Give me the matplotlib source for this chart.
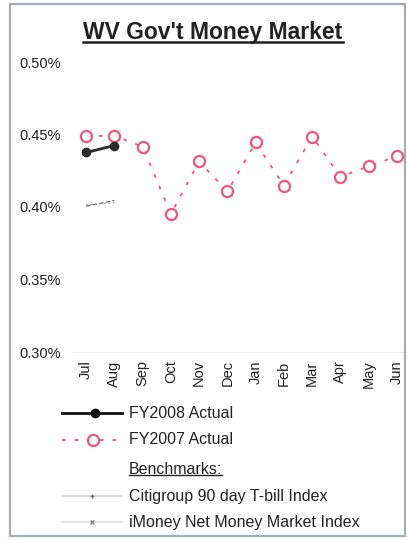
"""Monthly yield chart for the WV Government Money Market pool."""

import matplotlib
matplotlib.use("Agg")
import matplotlib.pyplot as plt
from matplotlib.lines import Line2D
from matplotlib.patches import Rectangle
from matplotlib.ticker import FuncFormatter

plt.rcParams["font.family"] = ["Liberation Sans", "DejaVu Sans"]

# Fiscal-year months and yields (percent)
months = ["Jul", "Aug", "Sep", "Oct", "Nov", "Dec", "Jan", "Feb", "Mar", "Apr", "May", "Jun"]
fy2008 = [0.4376, 0.4424]
fy2007 = [0.449, 0.449, 0.4417, 0.3952, 0.4314, 0.4107, 0.4445, 0.4148, 0.4486, 0.421, 0.428, 0.435]
citigroup_tbill = [0.4005, 0.4045]
imoney_net = [0.4015, 0.4030]
y_ticks = [0.30, 0.35, 0.40, 0.45, 0.50]

pink = "#f0557e"

fig = plt.figure(figsize=(4.07, 5.40), dpi=100)
fig.patch.set_facecolor("white")

# outer frame of the chart object
fig.add_artist(Rectangle((10 / 407, 4 / 540), 395 / 407, 532 / 540, transform=fig.transFigure,
                         fill=False, edgecolor="#a3aebb", linewidth=1.6))

ax = fig.add_axes([72 / 407, 1 - 352 / 540, 339 / 407, 290 / 540])
x = list(range(len(months)))

# benchmarks, drawn faintly
ax.plot(x[:len(citigroup_tbill)], citigroup_tbill, color="#555555", linewidth=0.8,
        linestyle=(0, (4, 2)), zorder=2)
ax.plot(x[:len(imoney_net)], imoney_net, color="#999999", linewidth=0.8,
        linestyle=(0, (2, 2)), zorder=2)

ax.plot(x, fy2007, color=pink, linewidth=1.3, linestyle=(0, (2, 5)), marker="o",
        markersize=8, markerfacecolor="white", markeredgecolor=pink, markeredgewidth=1.6,
        zorder=3)
ax.plot(x[:len(fy2008)], fy2008, color="#2b2b2b", linewidth=2, marker="o", markersize=6,
        markerfacecolor="#2b2b2b", markeredgecolor="#2b2b2b", zorder=4)

ax.set_xlim(-0.5, 11.5)
ax.set_ylim(0.30, 0.50)
ax.set_yticks(y_ticks)
ax.yaxis.set_major_formatter(FuncFormatter(lambda v, p: f"{v:.2f}%"))
ax.set_xticks(x)
ax.set_xticklabels(months, rotation=90)
ax.tick_params(axis="both", length=0, labelsize=10.5, colors="#222222")
ax.tick_params(axis="x", pad=6)
ax.tick_params(axis="y", pad=8)
for side in ["top", "right", "left"]:
    ax.spines[side].set_visible(False)
ax.spines["bottom"].set_color("#eeeeee")
ax.patch.set_alpha(0)

# title, underlined
title = fig.text(213 / 407, 1 - 32 / 540, "WV Gov't Money Market", ha="center", va="center",
                 fontsize=16.5, fontweight="bold", color="#222222")

# legend block below the axis
leg = fig.add_axes([0, 0, 1, 1 - 385 / 540])
leg.set_xlim(0, 407)
leg.set_ylim(155, 0)
leg.axis("off")


def row_y(py):
    return py - 385


leg.add_line(Line2D([62, 95, 122], [row_y(413)] * 3, color="#111111", linewidth=2,
                    marker="o", markevery=[1], markersize=6))
leg.add_line(Line2D([62, 93, 122], [row_y(440)] * 3, color=pink, linewidth=1.3,
                    linestyle=(0, (2, 5)), marker="o", markevery=[1], markersize=8,
                    markerfacecolor="white", markeredgewidth=1.6))
leg.add_line(Line2D([62, 92, 122], [row_y(496)] * 3, color="#d0d0d0", linewidth=1.2,
                    marker="+", markevery=[1], markersize=3, markeredgecolor="#777777"))
leg.add_line(Line2D([62, 92, 122], [row_y(522)] * 3, color="#e0e0e0", linewidth=1.2,
                    marker="x", markevery=[1], markersize=3, markeredgecolor="#888888"))

labels = [(413, "FY2008 Actual"), (440, "FY2007 Actual"), (469, "Benchmarks:"),
          (496, "Citigroup 90 day T-bill Index"), (522, "iMoney Net Money Market Index")]
texts = []
for py, label in labels:
    texts.append(leg.text(129, row_y(py), label, ha="left", va="center", fontsize=11.5,
                          color="#222222"))

# underline the title and the "Benchmarks:" heading
fig.canvas.draw()
renderer = fig.canvas.get_renderer()
for t, lw in [(title, 1.8), (texts[2], 1.0)]:
    bb = t.get_window_extent(renderer).transformed(fig.transFigure.inverted())
    fig.add_artist(Line2D([bb.x0, bb.x1], [bb.y0 + 0.002, bb.y0 + 0.002],
                          transform=fig.transFigure, color="#222222", linewidth=lw))

fig.savefig("out.png", dpi=100)
